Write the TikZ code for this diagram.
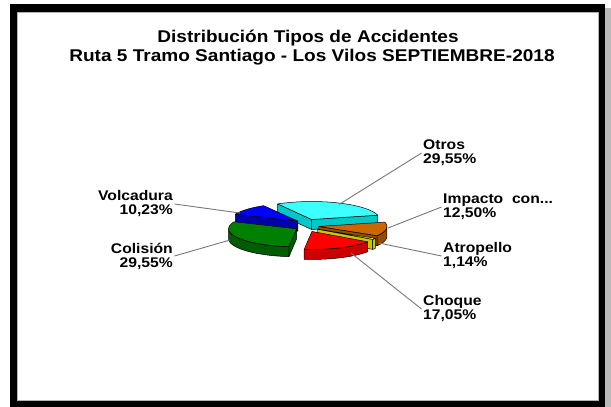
\documentclass[tikz,border=0pt]{standalone}
\usepackage{fontspec}
\newfontfamily\chartfont[FakeStretch=1.12]{Liberation Sans}
\definecolor{cyantop}{RGB}{60,255,255}
\definecolor{cyanside}{RGB}{0,200,200}
\definecolor{bluetop}{RGB}{0,0,255}
\definecolor{blueside}{RGB}{0,0,170}
\definecolor{orangetop}{RGB}{204,102,0}
\definecolor{orangeside}{RGB}{150,75,0}
\definecolor{greentop}{RGB}{0,128,0}
\definecolor{greenside}{RGB}{0,92,0}
\definecolor{yellowtop}{RGB}{255,255,0}
\definecolor{yellowside}{RGB}{200,200,0}
\definecolor{redtop}{RGB}{255,0,0}
\definecolor{redside}{RGB}{205,0,0}
\definecolor{leadergray}{RGB}{120,120,120}
\tikzset{
  slicepart/.style={draw=black,line width=0.5pt,line join=round},
  leader/.style={draw=leadergray,line width=0.9pt},
  lbl/.style={font=\chartfont\bfseries\fontsize{14}{14}\selectfont,inner sep=1.5pt,text=black},
  ttl/.style={font=\chartfont\bfseries\fontsize{17}{17}\selectfont,inner sep=0pt,text=black,anchor=base}
}
% #1 lo angle, #2 hi angle, #3 top colour, #4 side colour,
% #5 wall from, #6 wall to, #7 lo face, #8 hi face, #9 name
\newcommand\pieslice[9]{%
  \pgfmathsetmacro\sm{(#1+#2)/2}%
  \pgfmathsetmacro\ox{307+12*cos(\sm)}%
  \pgfmathsetmacro\oy{225.5-6.5*sin(\sm)}%
  \coordinate (#9) at (\ox,\oy);%
  \ifnum#7=1
    \filldraw[slicepart,fill=#4] (#9) -- ({\ox+68*cos(#1)},{\oy-18*sin(#1)}) -- ++(0,10) -- ({\ox},{\oy+10}) -- cycle;
  \fi
  \ifnum#8=1
    \filldraw[slicepart,fill=#4] (#9) -- ({\ox+68*cos(#2)},{\oy-18*sin(#2)}) -- ++(0,10) -- ({\ox},{\oy+10}) -- cycle;
  \fi
  \ifdim #5pt<#6pt
    \filldraw[slicepart,fill=#4] plot[domain=#5:#6,samples=30] ({\ox+68*cos(\x)},{\oy-18*sin(\x)})
      -- plot[domain=#6:#5,samples=30] ({\ox+68*cos(\x)},{\oy+10-18*sin(\x)}) -- cycle;
  \fi
  \filldraw[slicepart,fill=#3] (#9) -- plot[domain=#1:#2,samples=40] ({\ox+68*cos(\x)},{\oy-18*sin(\x)}) -- cycle;
}
\begin{document}
\begin{tikzpicture}[x=1pt,y=-1pt]
\useasboundingbox (0,0) rectangle (611,407);
\fill[white] (0,0) rectangle (611,407);
% frame
\fill[gray!55] (605,8) rectangle (611,407);
\fill[black] (10,4) rectangle (605,407);
\filldraw[fill=white,draw=gray!60,line width=0.6pt] (17,12) rectangle (598,400);
% title
\node[ttl] (t1) at (308,42) {Distribución Tipos de Accidentes};
\node[ttl] (t2) at (312,61) {Ruta 5 Tramo Santiago - Los Vilos SEPTIEMBRE-2018};
% pie
\pieslice{14}{120}{cyantop}{cyanside}{0}{0}{1}{1}{sOtros}
\pieslice{120.3}{157.1}{bluetop}{blueside}{0}{0}{0}{1}{sVol}
\pieslice{-31}{14}{orangetop}{orangeside}{-31}{0}{1}{0}{sImp}
\pieslice{157.1}{263.5}{greentop}{greenside}{180}{263.5}{0}{1}{sCol}
\pieslice{-35.1}{-31}{yellowtop}{yellowside}{-35.1}{-31}{1}{0}{sAtr}
\pieslice{-96.5}{-35.1}{redtop}{redside}{-96.5}{-35.1}{0}{0}{sCho}
% leader anchor points on the pie
\coordinate (pOtros) at (339,204.5);
\coordinate (pImp) at (388,228);
\coordinate (pAtr) at (379,243);
\coordinate (pCho) at (351,253);
\coordinate (pVol) at (240,213);
\coordinate (pCol) at (230,240);
% labels
\node[lbl,anchor=west,align=left] (lOtros) at (421.5,153) {Otros\\29,55\%};
\node[lbl,anchor=west,align=left] (lImp) at (441.5,207) {Impacto\ \ con...\\12,50\%};
\node[lbl,anchor=west,align=left] (lAtr) at (441.5,256) {Atropello\\1,14\%};
\node[lbl,anchor=west,align=left] (lCho) at (421.5,309) {Choque\\17,05\%};
\node[lbl,anchor=east,align=right] (lVol) at (174.5,204) {Volcadura\\10,23\%};
\node[lbl,anchor=east,align=right] (lCol) at (174.5,256) {Colisión\\29,55\%};
% leaders
\draw[leader] (pOtros) -- (lOtros.west);
\draw[leader] (pImp) -- (lImp.west);
\draw[leader] (pAtr) -- (lAtr.west);
\draw[leader] (pCho) -- (lCho.west);
\draw[leader] (lVol.east) -- (pVol);
\draw[leader] (lCol.east) -- (pCol);
\end{tikzpicture}
\end{document}
